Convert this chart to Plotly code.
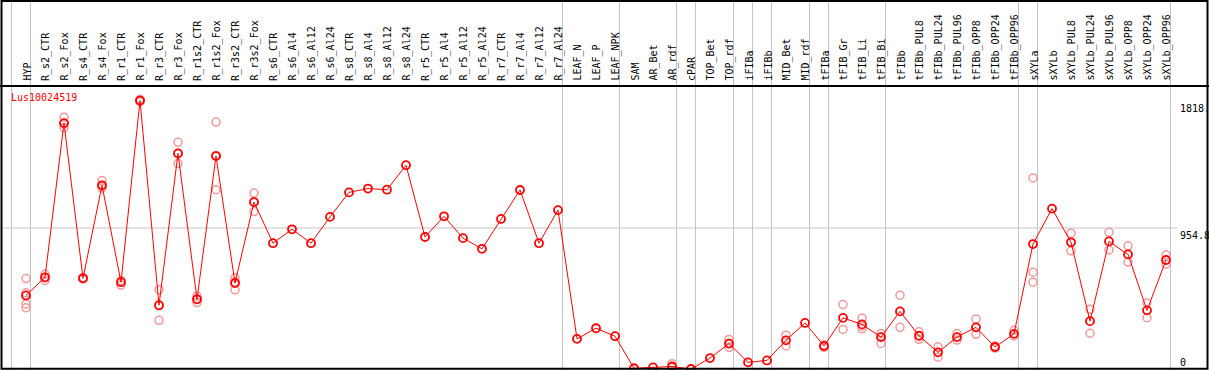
import plotly.graph_objects as go

categories = ["HYP", "R_s2_CTR", "R_s2_Fox", "R_s4_CTR", "R_s4_Fox", "R_r1_CTR", "R_r1_Fox",
              "R_r3_CTR", "R_r3_Fox", "R_r1s2_CTR", "R_r1s2_Fox", "R_r3s2_CTR", "R_r3s2_Fox",
              "R_s6_CTR", "R_s6_Al4", "R_s6_Al12", "R_s6_Al24", "R_s8_CTR", "R_s8_Al4", "R_s8_Al12",
              "R_s8_Al24", "R_r5_CTR", "R_r5_Al4", "R_r5_Al12", "R_r5_Al24", "R_r7_CTR", "R_r7_Al4",
              "R_r7_Al12", "R_r7_Al24", "LEAF_N", "LEAF_P", "LEAF_NPK", "SAM", "AR_Bet", "AR_rdf",
              "cPAR", "TOP_Bet", "TOP_rdf", "iFIBa", "iFIBb", "MID_Bet", "MID_rdf", "tFIBa",
              "tFIB_Gr", "tFIB_Li", "tFIB_Bi", "tFIBb", "tFIBb_PUL8", "tFIBb_PUL24", "tFIBb_PUL96",
              "tFIBb_OPP8", "tFIBb_OPP24", "tFIBb_OPP96", "sXYLa", "sXYLb", "sXYLb_PUL8",
              "sXYLb_PUL24", "sXYLb_PUL96", "sXYLb_OPP8", "sXYLb_OPP24", "sXYLb_OPP96"]

means = [498, 621, 1665, 614, 1244, 588, 1818, 432, 1460, 472, 1442, 582, 1130,
         852, 946, 852, 1030, 1196, 1222, 1214, 1380, 894, 1034, 886, 814, 1016, 1212,
         852, 1076, 204, 276, 222, 5, 11, 17, 0, 74, 172, 45, 58, 194, 312, 156, 346, 302,
         216, 390, 225, 113, 216, 282, 149, 238, 846, 1086, 858, 324, 864, 776, 397, 738]

replicates = [[612, 516, 441, 414], [641, 618, 600], [1705, 1633, 1660], [620, 610, 612],
              [1276, 1225, 1240], [600, 568, 594], [1826, 1810, 1818], [537, 330, 428],
              [1535, 1391, 1460], [493, 450, 472], [1672, 1214, 1445], [618, 536, 590],
              [1191, 1066, 1133],
              [], [], [], [], [], [], [], [], [], [], [], [], [], [], [], [],
              [], [], [], [], [], [36, 11], [], [], [200, 147, 172], [], [], [229, 156], [],
              [147, 162], [436, 268], [344, 272, 290], [240, 173], [500, 282], [252, 201],
              [150, 80], [240, 196], [338, 235], [155, 142], [262, 224],
              [1294, 656, 588], [], [920, 800], [404, 242], [926, 806], [834, 724],
              [447, 347], [772, 710]]

group_ends = [-1, 0, 28, 31, 34, 35, 37, 38, 39, 41, 42, 45, 52, 53, 60]
gene_name = "Lus10024519"
scale_max = 1909.6
axis_labels = ["1818.", "954.8", "0"]
axis_values = [1818, 954.8, 0]

W, H = 1209, 370
PX = 19.0          # pixels per category
X0 = 26.0          # pixel of first category
Y_ZERO = 369.0
Y_TOP = 87.0
k = (Y_ZERO - Y_TOP) / scale_max
y_lo = -(H - Y_ZERO) / k
y_hi = Y_ZERO / k

fig = go.Figure()

rx, ry = [], []
for i, r in enumerate(replicates):
    for v in r:
        rx.append(i)
        ry.append(v)

fig.add_trace(go.Scatter(x=rx, y=ry, mode="markers",
                         marker=dict(symbol="circle-open", size=8, color="#F09A9A",
                                     line=dict(width=1.5, color="#F09A9A")),
                         hoverinfo="skip"))
fig.add_trace(go.Scatter(x=list(range(len(categories))), y=means, mode="lines+markers",
                         line=dict(color="#FF0000", width=1),
                         marker=dict(symbol="circle-open", size=8, color="#FF0000",
                                     line=dict(width=1.8, color="#FF0000"))))

shapes = []
for g in group_ends:
    xv = g + 4.5 / PX
    shapes.append(dict(type="line", xref="x", yref="paper", x0=xv, x1=xv, y0=0, y1=1,
                       line=dict(color="#C4C4C4", width=1), layer="below"))
shapes.append(dict(type="line", xref="paper", yref="y", x0=0, x1=1177 / W,
                   y0=scale_max / 2, y1=scale_max / 2,
                   line=dict(color="#C4C4C4", width=1), layer="below"))
shapes.append(dict(type="line", xref="paper", yref="paper", x0=0, x1=1,
                   y0=1 - 86 / H, y1=1 - 86 / H, line=dict(color="black", width=2)))
shapes.append(dict(type="rect", xref="paper", yref="paper", x0=1.5 / W, x1=1 - 1.5 / W,
                   y0=1.2 / H, y1=1 - 1 / H, line=dict(color="black", width=2)))

annotations = []
for i, c in enumerate(categories):
    annotations.append(dict(x=i, xref="x", y=1 - 83 / H, yref="paper", text=c,
                            textangle=-90, showarrow=False, xanchor="center", yanchor="bottom",
                            xshift=0.5,
                            font=dict(family="DejaVu Sans Mono", size=10, color="black")))
annotations.append(dict(x=9 / W, xref="paper", y=1 - 97 / H, yref="paper", text=gene_name,
                        showarrow=False, xanchor="left", yanchor="middle",
                        font=dict(family="DejaVu Sans Mono", size=10, color="#FF0000")))
for lab, v in zip(axis_labels, axis_values):
    if v == 0:
        annotations.append(dict(x=1178 / W, xref="paper", y=v, yref="y", text=lab,
                                showarrow=False, xanchor="left", yanchor="bottom", yshift=-1,
                                font=dict(family="DejaVu Sans Mono", size=10, color="black")))
    else:
        annotations.append(dict(x=1178 / W, xref="paper", y=v, yref="y", text=lab,
                                showarrow=False, xanchor="left", yanchor="top", yshift=0,
                                font=dict(family="DejaVu Sans Mono", size=10, color="black")))

fig.update_layout(
    width=W, height=H, margin=dict(l=0, r=0, t=0, b=0),
    paper_bgcolor="white", plot_bgcolor="white", showlegend=False,
    xaxis=dict(range=[-X0 / PX, (W - X0) / PX], visible=False, fixedrange=True),
    yaxis=dict(range=[y_lo, y_hi], visible=False, fixedrange=True),
    shapes=shapes, annotations=annotations,
)

fig.write_html("out.html", config={"displayModeBar": False},
               post_script="document.body.style.margin='0';document.body.style.overflow='hidden';")
